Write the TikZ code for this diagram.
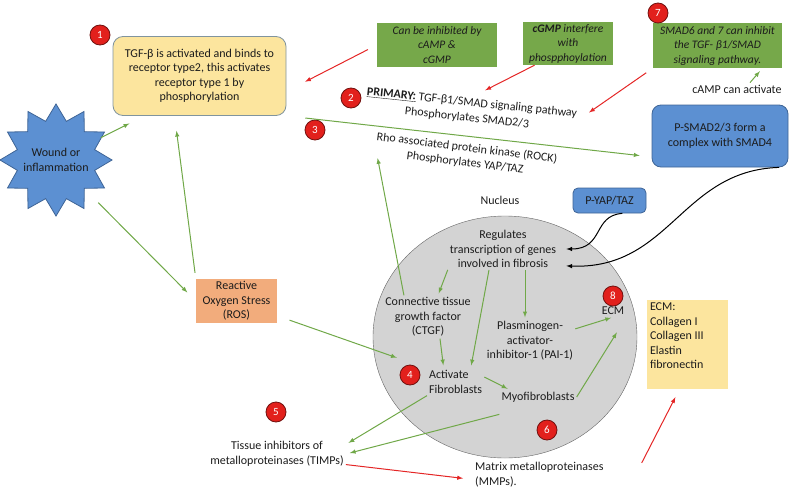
\documentclass[tikz,border=0pt]{standalone}
\usepackage{fontspec}
\setmainfont{Carlito}
\usetikzlibrary{shapes.geometric}

\definecolor{arrowGreen}{RGB}{112,168,72}
\definecolor{arrowRed}{RGB}{228,38,38}
\definecolor{noteGreen}{RGB}{118,168,74}
\definecolor{boxYellow}{RGB}{252,229,158}
\definecolor{boxEdge}{RGB}{128,148,158}
\definecolor{boxBlue}{RGB}{92,144,210}
\definecolor{edgeBlue}{RGB}{62,100,150}
\definecolor{rosOrange}{RGB}{242,172,124}
\definecolor{nucleusGrey}{RGB}{211,211,211}
\definecolor{badgeRed}{RGB}{226,32,28}
\definecolor{inkDark}{RGB}{28,28,28}

\tikzset{
	txt/.style={text=inkDark, align=center, inner sep=2pt},
	gArrow/.style={draw=arrowGreen, line width=1pt, -latex},
	rArrow/.style={draw=arrowRed, line width=1pt, -latex},
	kArrow/.style={draw=black, line width=1pt, -latex},
	badge/.style={circle, fill=badgeRed, draw=badgeRed!50!black, line width=0.8pt, text=white, inner sep=0pt, minimum size=20pt, font=\fontsize{11}{12}\selectfont},
	note/.style={txt, fill=noteGreen, font=\fontsize{11.5}{14.5}\selectfont\itshape},
	blueBox/.style={txt, fill=boxBlue, draw=edgeBlue, line width=0.8pt, rounded corners=9pt}
}

\begin{document}
\begin{tikzpicture}[x=1pt, y=-1pt, font=\fontsize{12}{14.5}\selectfont]
	\useasboundingbox (0,0) rectangle (790,490);

	\node[ellipse, fill=nucleusGrey, draw=black!60, minimum width=264pt, minimum height=242pt] (nucleus) at (505,337) {};

	\node[txt, fill=boxYellow, draw=boxEdge, line width=0.8pt, rounded corners=10pt, minimum width=173pt, minimum height=79pt] (tgfBox) at (199.5,76) {TGF-β is activated and binds to\\receptor type2, this activates\\receptor type 1 by\\phosphorylation};
	\node[star, star points=12, star point ratio=1.4, minimum size=112pt, fill=boxBlue, draw=edgeBlue, line width=0.8pt, inner sep=0pt, label={[txt]center:Wound or\\inflammation}] (woundStar) at (56,160) {};
	\node[txt, fill=rosOrange, minimum width=81pt, minimum height=44pt] (rosBox) at (236.5,301) {Reactive\\Oxygen Stress\\(ROS)};

	\node[note, minimum width=120pt, minimum height=44pt] (inhibNote) at (437,45) {Can be inhibited by\\cAMP \&\\cGMP};
	\node[note, minimum width=90pt, minimum height=43pt] (cgmpNote) at (568,43.5) {\textbf{cGMP} interfere\\with\\phospphoylation};
	\node[note, minimum width=129pt, minimum height=45pt] (smadNote) at (717.5,45.5) {SMAD6 and 7 can inhibit\\the TGF- β1/SMAD\\signaling pathway.};
	\node[txt] (campText) at (737,89) {cAMP can activate};

	\node[txt, inner sep=1pt, rotate=-6] (primaryLine) at (472,103) {\underline{\textbf{PRIMARY:}} TGF-β1/SMAD signaling pathway};
	\node[txt, inner sep=1pt, rotate=-6] (smadLine) at (467,118) {Phosphorylates SMAD2/3};
	\node[txt, inner sep=1pt, rotate=-7] (rockLine) at (467,148) {Rho associated protein kinase (ROCK)};
	\node[txt, inner sep=1pt, rotate=-7] (yapLine) at (465,163) {Phosphorylates YAP/TAZ};

	\node[blueBox, minimum width=136pt, minimum height=62pt] (psmadBox) at (720,136) {P-SMAD2/3 form a\\complex with SMAD4};
	\node[blueBox, rounded corners=5pt, minimum width=73pt, minimum height=25pt] (pyapBox) at (609.5,200.5) {P-YAP/TAZ};
	\node[txt] (nucleusLabel) at (500,200) {Nucleus};

	\node[txt] (regText) at (503,249) {Regulates\\transcription of genes\\involved in fibrosis};
	\node[txt] (ctgfText) at (428,317) {Connective tissue\\growth factor\\(CTGF)};
	\node[txt] (paiText) at (530,341) {Plasminogen-\\activator-\\inhibitor-1 (PAI-1)};
	\node[txt] (ecmText) at (613,311) {ECM};
	\node[txt, align=left, anchor=west] (actFib) at (427,382) {Activate\\Fibroblasts};
	\node[txt] (myoText) at (538,397) {Myofibroblasts};
	\node[txt] (timpText) at (277,454) {Tissue inhibitors of\\metalloproteinases (TIMPs)};
	\node[txt, align=left, anchor=west] (mmpText) at (473,474.5) {Matrix metalloproteinases\\(MMPs).};
	\node[txt, fill=boxYellow, inner sep=3pt] (ecmBox) at (687.5,344.5) {\parbox[c][83pt][t]{75pt}{\raggedright ECM:\\Collagen I\\Collagen III\\Elastin\\fibronectin}};

	\foreach \n/\x/\y in {1/100/35, 2/351/98, 3/315/130, 4/410/375, 5/276/412, 6/547/430, 7/658/13, 8/613/296}
		\node[badge] (badge\n) at (\x,\y) {\n};

	\draw[gArrow, shorten <=50pt, shorten >=17pt] (woundStar.center) -- (tgfBox.216);
	\draw[gArrow, shorten <=60pt, shorten >=12pt] (woundStar.center) -- (rosBox.west);
	\draw[gArrow, shorten <=6pt, shorten >=15pt] (rosBox.north west) -- (tgfBox.238);
	\draw[gArrow, shorten <=13pt, shorten >=32pt] (rosBox.-20) -- (actFib.north west);
	\draw[gArrow, shorten >=15pt] (ctgfText.138) -- (rockLine.south west);
	\draw[gArrow, shorten <=19pt, shorten >=12pt] (tgfBox.south east) -- (psmadBox.197);
	\draw[gArrow, shorten >=4pt] ([xshift=13pt]campText.north) -- ([xshift=45pt]smadNote.south);

	\draw[rArrow, shorten <=10pt, shorten >=21pt] (inhibNote.west) -- (tgfBox.-10);
	\draw[rArrow, shorten >=14pt] (cgmpNote.213) -- (primaryLine.north);
	\draw[rArrow, shorten <=8pt, shorten >=14pt] (smadNote.south west) -- (primaryLine.south east);

	\draw[kArrow] (pyapBox.-45) .. controls +(-30,2) and +(38,0) .. ([xshift=8pt]regText.east);
	\draw[kArrow] (psmadBox.-28) .. controls +(-98,3) and +(104,4) .. ([xshift=8pt]regText.-17);

	\draw[gArrow, shorten >=2pt] (regText.south west) -- ([xshift=10pt]ctgfText.north);
	\draw[gArrow, shorten >=3pt] ([xshift=-14pt]regText.south) -- ([xshift=15pt]actFib.north);
	\draw[gArrow, shorten >=2pt] ([xshift=22pt]regText.south) -- ([xshift=-5pt]paiText.north);
	\draw[gArrow, shorten >=3pt] ([xshift=12pt]ctgfText.south) -- ([xshift=-12pt]actFib.north);
	\draw[gArrow, shorten >=2pt] (paiText.15) -- (ecmText.south);
	\draw[gArrow, shorten >=18pt] (myoText.east) -- (ecmText.south east);
	\draw[gArrow, shorten >=2pt] ([yshift=5pt]actFib.east) -- ([xshift=10pt]myoText.north west);
	\draw[gArrow, shorten >=3pt] (actFib.south west) -- ([yshift=-5pt]timpText.north east);
	\draw[gArrow, shorten >=4pt] ([yshift=-10pt]myoText.south west) -- (timpText.east);

	\draw[rArrow, shorten >=10pt] ([yshift=4pt]timpText.south east) -- ([yshift=-5pt]mmpText.west);
	\draw[rArrow, shorten <=13pt, shorten >=9pt] ([xshift=30pt]mmpText.east) -- ([xshift=-8pt]ecmBox.south);
\end{tikzpicture}
\end{document}
